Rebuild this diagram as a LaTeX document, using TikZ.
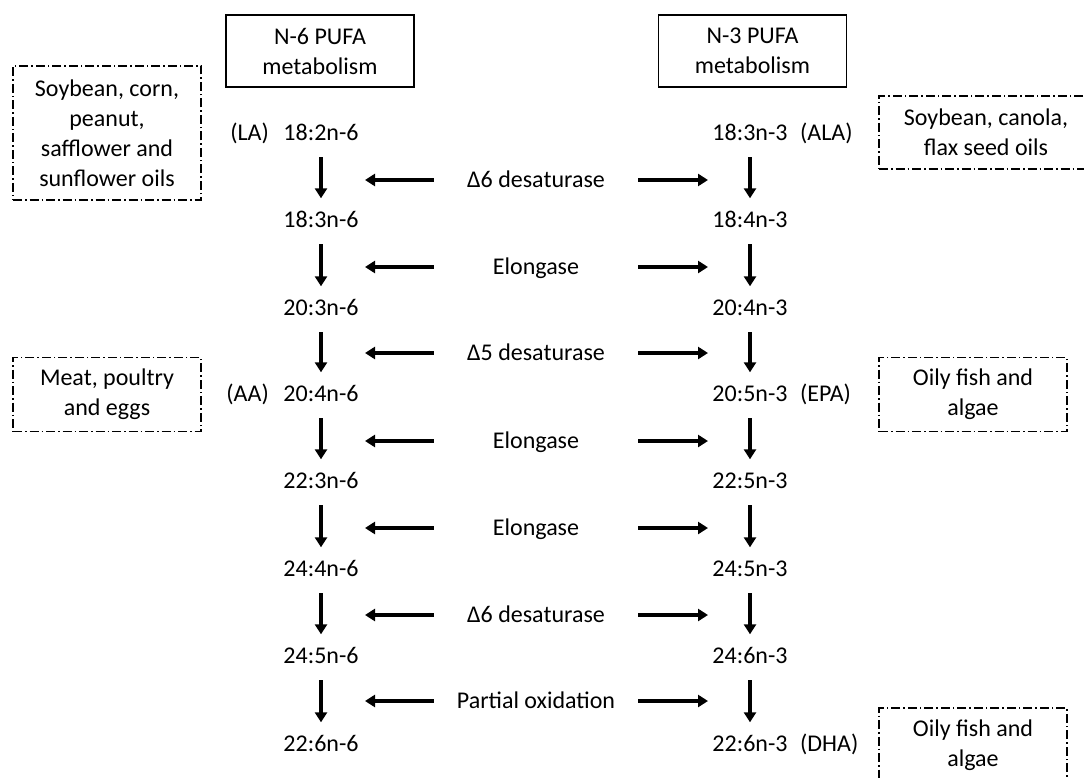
\documentclass[tikz,border=0pt]{standalone}
\usepackage{fontspec}
\setmainfont{Carlito}
\usetikzlibrary{arrows.meta}
\begin{document}
\begin{tikzpicture}[x=1pt,y=-1pt,
  font=\fontsize{24}{30}\selectfont,
  hdr/.style={draw, line width=1.3pt, minimum width=188pt, minimum height=72pt, align=center, inner sep=0pt},
  src/.style={draw, line width=1.2pt, dash pattern=on 9pt off 3pt on 1.5pt off 3pt, align=center, inner sep=0pt},
  fa/.style={inner sep=0pt, text height=15pt, text depth=0pt},
  enz/.style={inner sep=0pt, text height=15pt, text depth=0pt, minimum width=204pt},
  arr/.style={line width=4.5pt, -{Triangle[width=12pt,length=10pt]}}]
\useasboundingbox (0,0) rectangle (1084,778);
\clip (0,0) rectangle (1084,778);

% headers
\node[hdr] (h6) at (320,51) {N-6 PUFA\\metabolism};
\node[hdr] (h3) at (752.5,51) {N-3 PUFA\\metabolism};

% source boxes
\node[src, minimum width=188pt, minimum height=134pt] (s1) at (107,133) {Soybean, corn,\\peanut,\\safflower and\\sunflower oils};
\node[src, minimum width=188pt, minimum height=74pt] (s2) at (107,394.5) {Meat, poultry\\and eggs};
\node[src, minimum width=214pt, minimum height=73pt] (s3) at (986,132.5) {Soybean, canola,\\flax seed oils};
\node[src, minimum width=188pt, minimum height=74pt] (s4) at (973,394.5) {Oily fish and\\algae};
\node[src, minimum width=188pt, minimum height=74pt] (s5) at (973,745) {Oily fish and\\algae};

% fatty acids
\foreach \n/\y/\a/\b in {0/133/18:2n-6/18:3n-3, 1/220/18:3n-6/18:4n-3, 2/308/20:3n-6/20:4n-3, 3/394/20:4n-6/20:5n-3,
  4/481/22:3n-6/22:5n-3, 5/569/24:4n-6/24:5n-3, 6/656/24:5n-6/24:6n-3, 7/744/22:6n-6/22:6n-3}{
  \node[fa] (a\n) at (321,\y) {\a};
  \node[fa] (b\n) at (750,\y) {\b};
}
\node[fa, anchor=east] (la) at (269,133) {(LA)};
\node[fa, anchor=east] (aa) at (269,394) {(AA)};
\node[fa, anchor=west] (ala) at (800,133) {(ALA)};
\node[fa, anchor=west] (epa) at (800,394) {(EPA)};
\node[fa, anchor=west] (dha) at (800,744) {(DHA)};

% down arrows
\foreach \i/\j in {0/1,1/2,2/3,3/4,4/5,5/6,6/7}{
  \draw[arr, shorten <=16.5pt, shorten >=14pt] (a\i) -- (a\j);
  \draw[arr, shorten <=16.5pt, shorten >=14pt] (b\i) -- (b\j);
}

% enzymes with side arrows
\foreach \n/\y/\t in {1/180/Δ6 desaturase, 2/267/Elongase, 3/353/Δ5 desaturase, 4/441/Elongase,
  5/528/Elongase, 6/615/Δ6 desaturase, 7/701/Partial oxidation}{
  \node[enz] (e\n) at (536,\y) {\t};
  \coordinate (l\n) at (365,\y);
  \coordinate (r\n) at (708,\y);
  \draw[arr] (e\n.west) -- (l\n);
  \draw[arr] (e\n.east) -- (r\n);
}
\end{tikzpicture}
\end{document}
